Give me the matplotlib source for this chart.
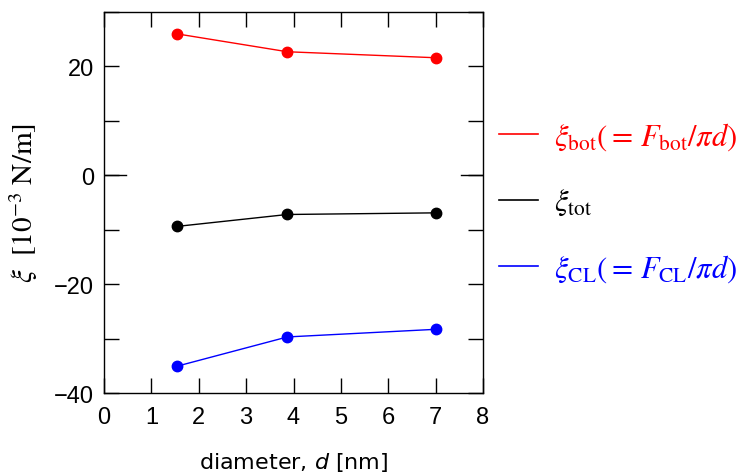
import matplotlib.pyplot as plt
from matplotlib.lines import Line2D
from matplotlib.ticker import MultipleLocator

plt.rcParams['font.family'] = ['Liberation Sans', 'DejaVu Sans']
plt.rcParams['mathtext.fontset'] = 'stix'

# data
diameter = [1.53, 3.87, 7.0]
xi_bot = [26.0, 22.7, 21.6]
xi_tot = [-9.4, -7.2, -6.9]
xi_cl = [-35.1, -29.7, -28.3]

labels = [r'$\xi_{\mathrm{bot}}(=\,F_{\mathrm{bot}}/\pi d)$',
          r'$\xi_{\mathrm{tot}}$',
          r'$\xi_{\mathrm{CL}}(=\,F_{\mathrm{CL}}/\pi d)$']
colors = ['#ff0000', '#000000', '#0000ff']

fig = plt.figure(figsize=(7.5, 4.77), dpi=100)
ax = fig.add_axes([0.1387, 0.174, 0.5053, 0.7987])

for ys, c in zip([xi_bot, xi_tot, xi_cl], colors):
    ax.plot(diameter, ys, color=c, lw=1.0, marker='o', ms=7.5)

ax.set_xlim(0, 8)
ax.set_ylim(-40, 30)
ax.xaxis.set_major_locator(MultipleLocator(1))
ax.yaxis.set_major_locator(MultipleLocator(20))
ax.yaxis.set_minor_locator(MultipleLocator(10))
ax.tick_params(which='both', direction='in', top=True, right=True,
               length=11, width=1.0, labelsize=17, pad=7)
ax.tick_params(axis='x', pad=9)
for s in ax.spines.values():
    s.set_linewidth(1.0)
# longer tick marks at zero
ax.axhline(0, xmin=0, xmax=0.058, color='k', lw=1.0)
ax.axhline(0, xmin=0.942, xmax=1, color='k', lw=1.0)

ax.set_xlabel(r'diameter, $d$ [nm]', fontsize=16, family='DejaVu Sans',
              math_fontfamily='dejavusans', labelpad=16)
ax.set_ylabel(r'$\xi\ \ [10^{-3}\ \mathrm{N/m}]$', fontsize=21, labelpad=10)

handles = [Line2D([], [], color=c, lw=1.2) for c in colors]
leg = fig.legend(handles, labels, loc='center left', bbox_to_anchor=(0.628, 0.574),
                 frameon=False, fontsize=22, handlelength=1.3, handletextpad=0.5,
                 labelspacing=1.15, labelcolor=colors)

fig.savefig('out.png', dpi=100)
